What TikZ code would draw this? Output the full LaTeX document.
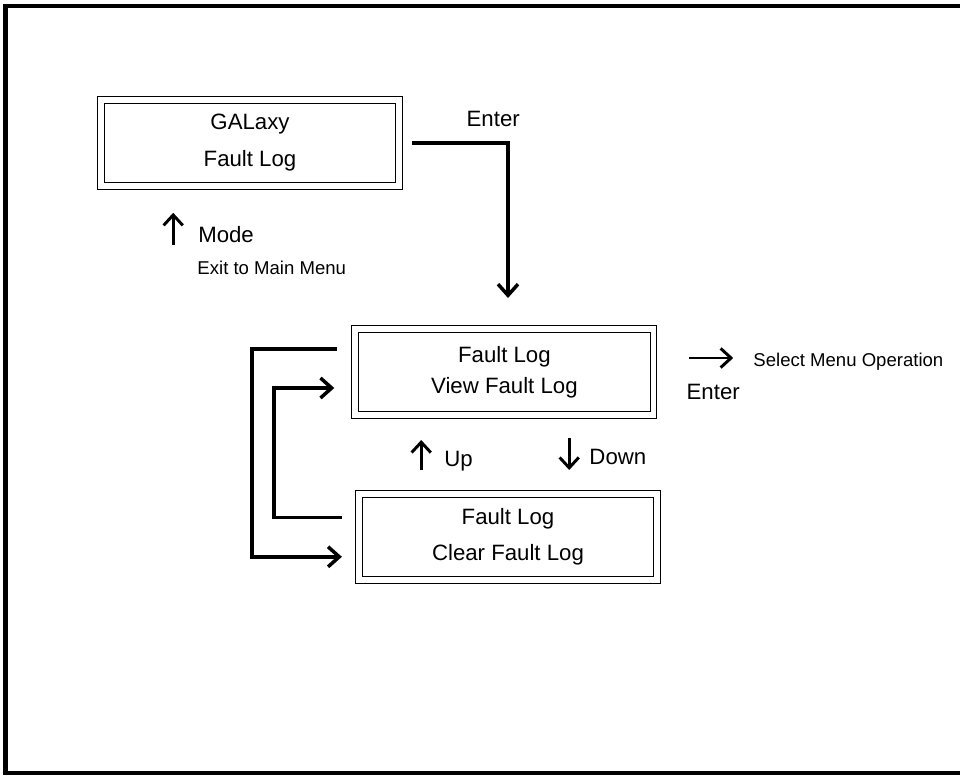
\documentclass[tikz,border=0pt]{standalone}
\usepackage{fontspec}
\setmainfont{Liberation Sans}
\usetikzlibrary{arrows.meta}
\tikzset{
  menubox/.style={draw,line width=.7pt,minimum width=7.28cm,minimum height=1.98cm,
    align=center,font=\fontsize{15.8pt}{26pt}\selectfont},
  conn/.style={line width=2.5pt,-{Straight Barb[length=2.8mm,width=5mm]}},
  keyarrow/.style={line width=2.1pt,-{Straight Barb[length=2.6mm,width=4.8mm]}},
  keylbl/.style={anchor=base west,inner sep=0pt,font=\fontsize{15.8pt}{18pt}\selectfont},
  hintlbl/.style={anchor=base west,inner sep=0pt,font=\fontsize{13.2pt}{16pt}\selectfont}
}
\begin{document}
\begin{tikzpicture}[x=1cm,y=1cm]
\path[use as bounding box] (0,0) rectangle (24.00,19.40);
\draw[line width=3.2pt] (0.14,19.25) rectangle (24.80,0.075);
% menu screens
\node[menubox] (galaxy) at (6.25,15.83) {GALaxy\\Fault Log};
\node[menubox,font=\fontsize{15.8pt}{22pt}\selectfont] (viewlog) at (12.61,10.10) {Fault Log\\View Fault Log};
\node[menubox] (clearlog) at (12.70,5.98) {Fault Log\\Clear Fault Log};
\foreach \b in {galaxy,viewlog,clearlog}
  \draw[line width=.7pt] ([shift={(-1.6mm,-1.6mm)}]\b.south west) rectangle ([shift={(1.6mm,1.6mm)}]\b.north east);
% enter into the fault log menu
\coordinate (enterdown) at (12.70,11.95);
\draw[conn] ([xshift=.40cm]galaxy.east) -| (enterdown);
\node[keylbl,anchor=base] (enterone) at (12.33,16.23) {Enter};
% mode
\draw[keyarrow] (4.33,13.28) -- (4.33,14.08);
\node[keylbl] (mode) at (4.95,13.33) {Mode};
\node[hintlbl] (exitmain) at (4.93,12.53) {Exit to Main Menu};
% scroll loops
\draw[conn] ([xshift=-.53cm,yshift=.58cm]viewlog.west) -- ++(-2.13,0)
  |- ([xshift=-.50cm,yshift=-.50cm]clearlog.west);
\draw[conn] ([xshift=-.50cm,yshift=.48cm]clearlog.west) -- ++(-1.70,0)
  |- ([xshift=-.60cm,yshift=-.40cm]viewlog.west);
\draw[keyarrow] (10.53,7.65) -- (10.53,8.40);
\node[keylbl] (up) at (11.10,7.73) {Up};
\draw[keyarrow] (14.23,8.45) -- (14.23,7.65);
\node[keylbl] (down) at (14.73,7.78) {Down};
% select
\draw[keyarrow] (17.23,10.45) -- (18.33,10.45);
\node[hintlbl] (select) at (18.83,10.23) {Select Menu Operation};
\node[keylbl,anchor=base] (entertwo) at (17.83,9.40) {Enter};
\end{tikzpicture}
\end{document}
